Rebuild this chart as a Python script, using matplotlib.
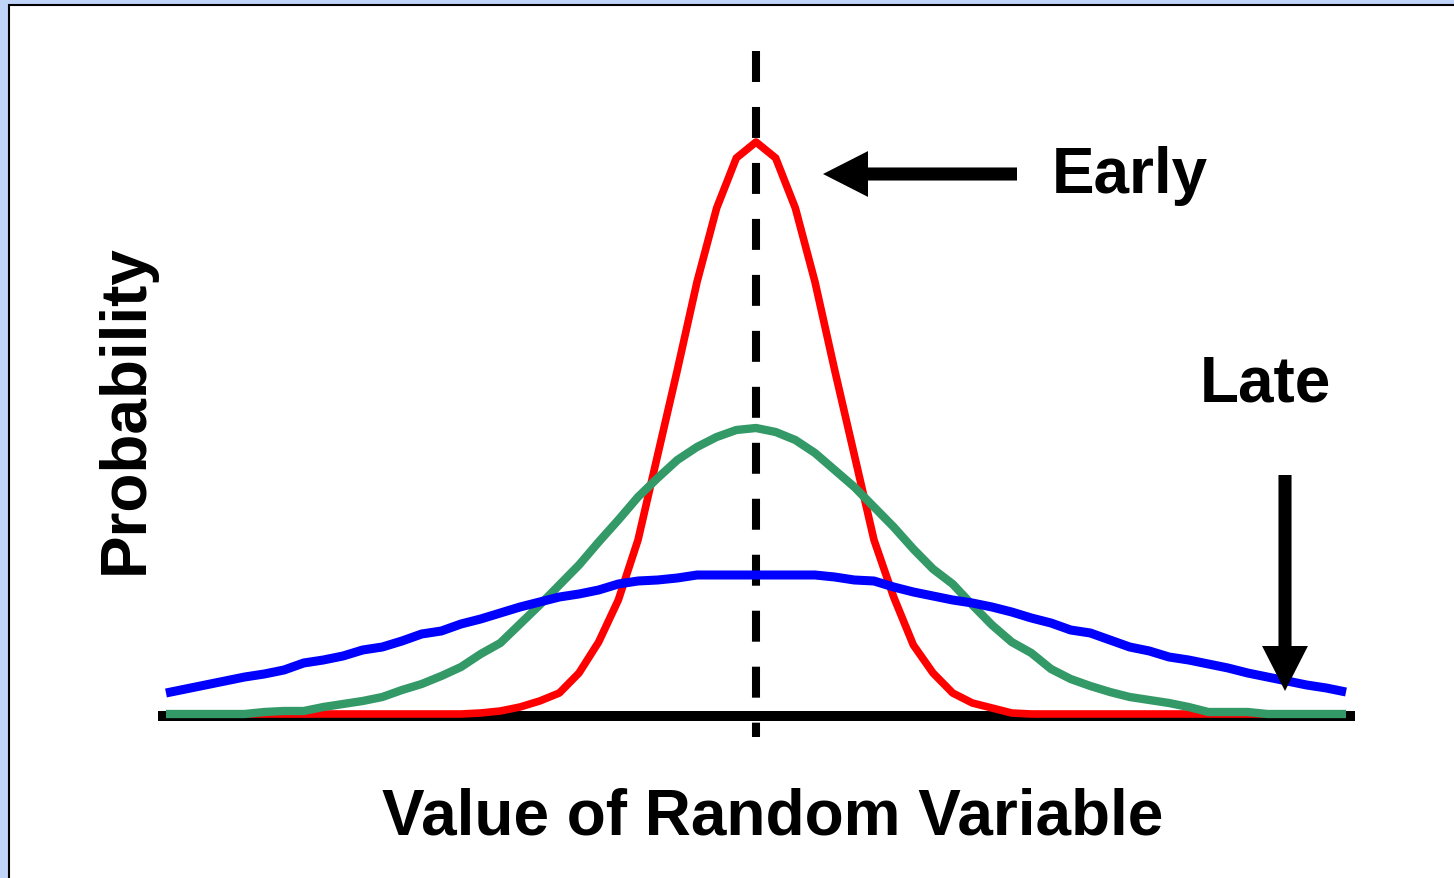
import numpy as np
import matplotlib
matplotlib.use("Agg")
import matplotlib.pyplot as plt
from matplotlib.patches import Rectangle, FancyArrowPatch

# value of the random variable (bin index around the mean)
x = np.arange(-30, 31)

# probability heights for the three stages
early = [0, 0, 0, 0, 0, 0, 0, 0, 0, 0, 0, 0, 0, 0, 0, 0,
         1, 3, 7, 13, 21, 41, 72, 114, 174, 259, 344, 432, 506, 556,
         572,
         556, 506, 432, 344, 259, 174, 117, 69, 41, 21, 11, 6, 1, 0,
         0, 0, 0, 0, 0, 0, 0, 0, 0, 0, 0, 0, 0, 0, 0, 0]
middle = [0, 0, 0, 0, 0, 2, 3, 3, 7, 10, 13, 17, 24, 30, 38, 47,
          60, 71, 90, 109, 129, 149, 172, 194, 217, 236, 254, 267, 277, 284,
          286,
          282, 274, 261, 244, 227, 207, 187, 165, 145, 130, 109, 89, 72, 61,
          45, 35, 28, 22, 17, 14, 11, 7, 2, 2, 2, 0, 0, 0, 0, 0]
late = [21, 25, 29, 33, 37, 40, 44, 51, 54, 58, 64, 67, 73, 80, 83, 90,
        95, 101, 107, 112, 117, 120, 124, 130, 133, 134, 136, 139, 139, 139,
        139,
        139, 139, 139, 137, 134, 133, 127, 122, 118, 114, 111, 107, 102, 96,
        91, 84, 81, 74, 67, 63, 57, 54, 50, 46, 41, 37, 33, 29, 26, 22]

early = np.array(early) / 1000
middle = np.array(middle) / 1000
late = np.array(late) / 1000

W, H = 1454, 879
plt.rcParams['font.family'] = ['Liberation Sans', 'DejaVu Sans']
plt.rcParams['lines.scale_dashes'] = False

fig = plt.figure(figsize=(W / 100, H / 100), dpi=100, facecolor='#c0d4f8')

# white slide panel with a dark frame on the top/left
fig.add_artist(Rectangle((9 / W, -0.1), 1.2, 1.1 - 6.3 / H, transform=fig.transFigure,
                         facecolor='white', edgecolor='black', linewidth=1.5, zorder=0))

step = 19.667   # px per unit on x
cx = 756        # px of the mean
base = 715      # px of zero probability
x0, x1 = 158, 1355
ax = fig.add_axes([x0 / W, 0, (x1 - x0) / W, 1])
ax.set_xlim((x0 - cx) / step, (x1 - cx) / step)
ax.set_ylim((base - H) / 1000, base / 1000)
ax.axis('off')

# mean marker
ax.plot([0, 0], [(base - 52) / 1000, (base - 738) / 1000], color='black', lw=5.8,
        linestyle=(0, (22.3, 18.0)), dash_capstyle='butt', zorder=1)
# horizontal axis
ax.axhline(-0.002, color='black', lw=7.2, solid_capstyle='butt', zorder=2)

ax.plot(x, early, color='#ff0000', lw=5.5, solid_capstyle='butt', zorder=3)
ax.plot(x, middle, color='#339966', lw=6, solid_capstyle='butt', zorder=4)
ax.plot(x, late, color='#0000ff', lw=6.5, solid_capstyle='butt', zorder=5)


def fpos(px, py):
    return px / W, 1 - py / H


arrow_style = "simple,head_length=32.4,head_width=33,tail_width=9.4"
fig.add_artist(FancyArrowPatch(fpos(1017, 175), fpos(823, 175), transform=fig.transFigure,
                               arrowstyle=arrow_style, mutation_scale=1,
                               color='black', linewidth=0, shrinkA=0, shrinkB=0))
fig.add_artist(FancyArrowPatch(fpos(1285, 476), fpos(1285, 692), transform=fig.transFigure,
                               arrowstyle=arrow_style, mutation_scale=1,
                               color='black', linewidth=0, shrinkA=0, shrinkB=0))

tkw = dict(fontsize=46, fontweight='bold', color='black')
fig.text(*fpos(1052, 193), 'Early', ha='left', va='baseline', **tkw)
fig.text(*fpos(1200, 402), 'Late', ha='left', va='baseline', **tkw)
fig.text(*fpos(773, 835), 'Value of Random Variable', ha='center', va='baseline', **tkw)
fig.text(*fpos(143, 409), 'Probability', ha='center', va='baseline',
         rotation=90, rotation_mode='anchor', **tkw)

fig.savefig('out.png', dpi=100, facecolor=fig.get_facecolor())
